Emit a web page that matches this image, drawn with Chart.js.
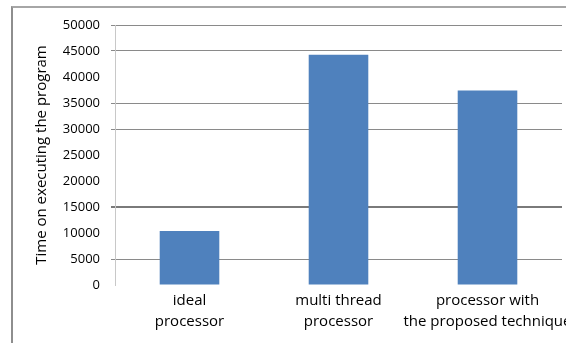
<!DOCTYPE html>
<html>
<head>
<meta charset="utf-8">
<script src="https://cdn.jsdelivr.net/npm/chart.js@4/dist/chart.umd.min.js"></script>
<style>
  html, body { margin: 0; padding: 0; background: #fff; overflow: hidden; width: 566px; height: 343px; }
  #frame { position: absolute; left: 11px; top: 6px; width: 700px; height: 400px;
           border-left: 2px solid #8e8e8e; border-top: 2px solid #a6a6a6; }
  #wrap { position: absolute; left: 0; top: 0; width: 640px; height: 343px; }
</style>
</head>
<body>
<div id="frame"></div>
<div id="wrap"><canvas id="chart" width="640" height="343"></canvas></div>
<script>
// Processor categories (two-line labels) and execution times
const categories = [
  ['ideal', 'processor'],
  ['multi thread', 'processor'],
  ['processor with', 'the proposed technique']
];
const executionTime = [10400, 44300, 37400];

// Value axis range
const yMin = 0;
const yMax = 50000;
const yStep = 5000;

// Horizontal rules that are drawn (the others are left out)
const ruledValues = [5000, 15000, 30000, 35000, 45000, 50000];
const heavyRule = 15000;

new Chart(document.getElementById('chart'), {
  type: 'bar',
  data: {
    labels: categories,
    datasets: [{
      data: executionTime,
      backgroundColor: '#4f81bd',
      borderWidth: 0,
      categoryPercentage: 1,
      barPercentage: 0.4
    }]
  },
  options: {
    responsive: false,
    animation: false,
    layout: { padding: { top: 25, right: 78, bottom: 0, left: 0 } },
    plugins: { legend: { display: false }, tooltip: { enabled: false } },
    scales: {
      x: {
        grid: { display: false, drawTicks: false },
        border: { display: false },
        ticks: {
          color: '#000',
          font: { family: 'Open Sans', size: 15, lineHeight: 1.4 },
          padding: 5,
          maxRotation: 0,
          minRotation: 0,
          autoSkip: false
        },
        afterFit: (s) => { s.height = 58; s.paddingLeft = 0; s.paddingRight = 0; }
      },
      y: {
        min: yMin,
        max: yMax,
        ticks: {
          stepSize: yStep,
          color: '#000',
          font: { family: 'Open Sans', size: 13 },
          padding: 11,
          callback: (v) => String(v)
        },
        grid: {
          tickLength: 4,
          color: (ctx) => ctx.tick && ruledValues.includes(ctx.tick.value)
            ? (ctx.tick.value === heavyRule ? '#7a7a7a' : '#8a8a8a') : 'rgba(0,0,0,0)',
          lineWidth: (ctx) => ctx.tick && ctx.tick.value === heavyRule ? 2 : 1
        },
        border: { color: '#c8c8c8', width: 1 },
        title: {
          display: true,
          text: 'Time on executing the program',
          color: '#000',
          font: { family: 'Open Sans', size: 15 },
          padding: { top: 33, bottom: 0 }
        },
        afterFit: (s) => { s.width = 115; }
      }
    }
  }
});
</script>
</body>
</html>
